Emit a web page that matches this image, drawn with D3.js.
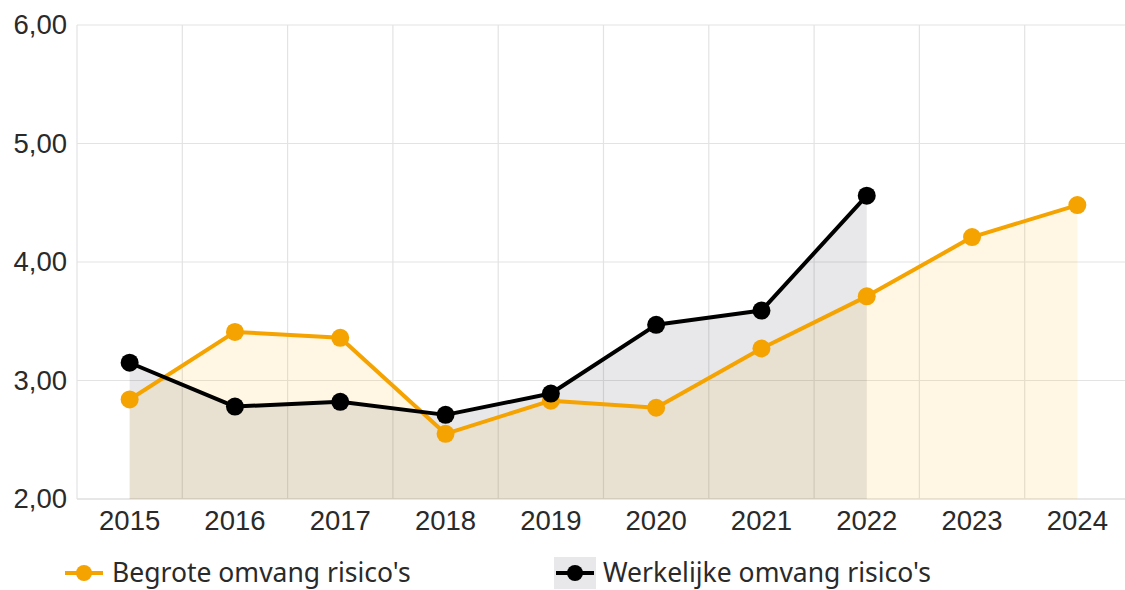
<!DOCTYPE html>
<html><head><meta charset="utf-8">
<script src="https://cdn.jsdelivr.net/npm/d3@7"></script>
<style>body{margin:0;background:#fff}svg{display:block;font-family:"Noto Sans","Open Sans",sans-serif}</style>
</head><body><svg id="c" width="1125" height="590"></svg>
<script>
const years = ["2015","2016","2017","2018","2019","2020","2021","2022","2023","2024"];
const begroot = [2.84, 3.41, 3.36, 2.55, 2.83, 2.77, 3.27, 3.71, 4.21, 4.48];
const werkelijk = [3.15, 2.78, 2.82, 2.71, 2.89, 3.47, 3.59, 4.56];
const yTicks = [2, 3, 4, 5, 6];
const seriesNames = ["Begrote omvang risico's", "Werkelijke omvang risico's"];

const svg = d3.select("#c");
const x = d3.scaleBand().domain(years).range([77, 1130]);
const y = d3.scaleLinear().domain([2, 6]).range([499, 25]);
const cx = d => x(d) + x.bandwidth() / 2;
const fmt = v => d3.format(".2f")(v).replace(".", ",");

// grid
const g = svg.append("g");
g.selectAll("line.h").data(yTicks).join("line")
  .attr("x1", 77).attr("x2", 1130).attr("y1", d => y(d)).attr("y2", d => y(d))
  .attr("stroke", d => d === 2 ? "#cfcfcf" : "#e3e3e3").attr("stroke-width", 1.2);
g.selectAll("line.v").data(years).join("line")
  .attr("x1", d => x(d)).attr("x2", d => x(d)).attr("y1", 25).attr("y2", 499)
  .attr("stroke", "#e3e3e3").attr("stroke-width", 1.2);

const orange = "#f4a300";
const bData = years.map((d, i) => ({ k: d, v: begroot[i] }));
const wData = werkelijk.map((v, i) => ({ k: years[i], v }));

const area = d3.area().x(d => cx(d.k)).y0(y(2)).y1(d => y(d.v));
const line = d3.line().x(d => cx(d.k)).y(d => y(d.v));

svg.append("path").datum(bData).attr("d", area).attr("fill", "rgba(255,170,0,0.11)");
svg.append("path").datum(wData).attr("d", area).attr("fill", "rgba(30,30,50,0.1)");

svg.append("path").datum(bData).attr("d", line).attr("fill", "none").attr("stroke", orange).attr("stroke-width", 4).attr("stroke-linejoin", "round");
svg.selectAll("circle.b").data(bData).join("circle").attr("cx", d => cx(d.k)).attr("cy", d => y(d.v)).attr("r", 9).attr("fill", orange);

svg.append("path").datum(wData).attr("d", line).attr("fill", "none").attr("stroke", "#000").attr("stroke-width", 4).attr("stroke-linejoin", "round");
svg.selectAll("circle.w").data(wData).join("circle").attr("cx", d => cx(d.k)).attr("cy", d => y(d.v)).attr("r", 9).attr("fill", "#000");

// axes
const yAxis = d3.axisLeft(y).tickValues(yTicks).tickFormat(fmt).tickSize(0).tickPadding(10);
const ya = svg.append("g").attr("transform", "translate(77,0)").call(yAxis);
ya.select(".domain").remove();
ya.selectAll("text").attr("font-size", 27.5).attr("fill", "#2a2a2a").attr("font-family", "inherit");

const xAxis = d3.axisBottom(x).tickSize(0).tickPadding(11);
const xa = svg.append("g").attr("transform", "translate(0,499)").call(xAxis);
xa.select(".domain").remove();
xa.selectAll("text").attr("font-size", 27.5).attr("fill", "#2a2a2a").attr("font-family", "inherit");

// legend
const leg = svg.append("g");
const items = [
  { name: seriesNames[0], color: orange, x: 63, bg: "none" },
  { name: seriesNames[1], color: "#000", x: 554, bg: "rgba(30,30,50,0.1)" }
];
items.forEach(it => {
  const gi = leg.append("g").attr("transform", `translate(${it.x},573)`);
  gi.append("rect").attr("x", 0).attr("y", -16).attr("width", 42).attr("height", 32).attr("fill", it.bg);
  gi.append("line").attr("x1", 2).attr("x2", 40).attr("y1", 0).attr("y2", 0).attr("stroke", it.color).attr("stroke-width", 4);
  gi.append("circle").attr("cx", 21).attr("cy", 0).attr("r", 8).attr("fill", it.color);
  gi.append("text").attr("x", 49).attr("y", 9).attr("font-size", 26.5).attr("fill", "#2a2a2a").text(it.name);
});
</script></body></html>
